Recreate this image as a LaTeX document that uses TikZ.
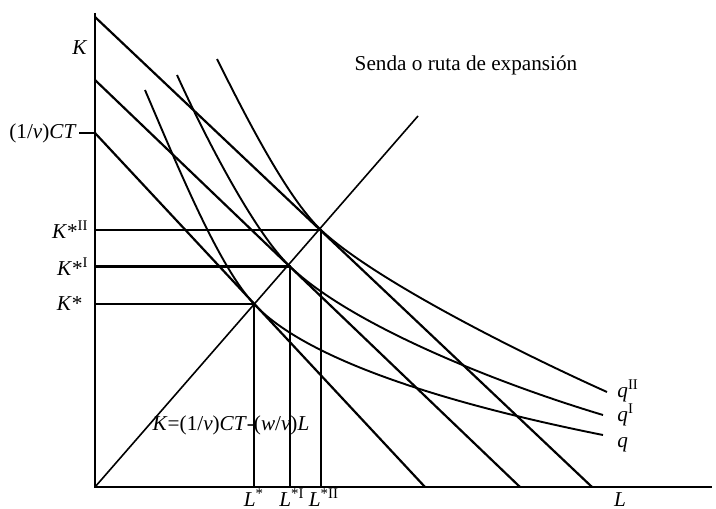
\documentclass[tikz,border=0pt]{standalone}
\usepackage{fontspec}
\setmainfont{Liberation Serif}
\usetikzlibrary{positioning}

\begin{document}
\begin{tikzpicture}[x=0.5pt,y=-0.5pt,every node/.style={font=\fontsize{10.6}{12}\selectfont,inner sep=1pt},
  axis/.style={line width=.6pt},
  budget/.style={line width=1.1pt},
  isoq/.style={line width=.95pt},
  guide/.style={line width=1.05pt}]
\useasboundingbox (0,0) rectangle (716,508);
\coordinate (O) at (95,487);
\coordinate (ytop) at (95,13);
\coordinate (xend) at (712,487);
\coordinate (b0s) at (95,133);\coordinate (b0e) at (425,487);
\coordinate (b1s) at (95,80);\coordinate (b1e) at (520,487);
\coordinate (b2s) at (95,17);\coordinate (b2e) at (592,487);
\coordinate (E0) at (254,304);
\coordinate (E1) at (290,266.5);
\coordinate (E2) at (321,230);
\coordinate (h0) at (95,304);\coordinate (f0) at (254,487);
\coordinate (h1) at (95,266.5);\coordinate (f1) at (290,487);
\coordinate (h2) at (95,230);\coordinate (f2) at (321,487);
\coordinate (pend) at (418,116);
\draw[axis] (ytop)--(O)--(xend);
\draw[budget] (b0s)--(b0e);
\draw[budget] (b1s)--(b1e);
\draw[budget] (b2s)--(b2e);
\draw[line width=.8pt] (O)--(pend);
\draw[guide] (h0)--(E0)--(f0);
\draw[guide] (h1)--(E1)--(f1);
\draw[guide] (h2)--(E2)--(f2);
\draw[isoq] (145,90) .. controls (180,172) and (219,266.5) .. (E0)
  .. controls (314,368) and (483,411) .. (603,435);
\draw[isoq] (177,75) .. controls (207,141) and (255,233) .. (E1)
  .. controls (350,324) and (493,382) .. (603,415);
\draw[isoq] (217,59) .. controls (242,109) and (286,197) .. (E2)
  .. controls (371,277) and (507,347) .. (607,392);
\node (lK) at (80,48) {\textit{K}};
\node[anchor=east] (lCT) at (79,133) {(1/\textit{v})\textit{CT}};
\draw[axis] (lCT.east)--(b0s);
\node[anchor=east] (lKc) at (91,230) {\textit{K}*\textsuperscript{II}};
\node[anchor=east] (lKb) at (91,266.5) {\textit{K}*\textsuperscript{I}};
\node[anchor=east] (lKa) at (85,304) {\textit{K}*};
\node[anchor=base] (lLa) at (254,506) {\textit{L}\textsuperscript{*}};
\node[anchor=base] (lLb) at (292,506) {\textit{L}\textsuperscript{*I}};
\node[anchor=base] (lLc) at (324,506) {\textit{L}\textsuperscript{*II}};
\node[anchor=base] (lL) at (620,506) {\textit{L}};
\node[anchor=base west] (lqc) at (615,397) {\textit{q}\textsuperscript{II}};
\node[anchor=base west] (lqb) at (615,421) {\textit{q}\textsuperscript{I}};
\node[anchor=base west] (lqa) at (615,447) {\textit{q}};
\node (lsenda) at (466,65) {Senda o ruta de expansión};
\node (leq) at (231,425) {\textit{K}=(1/\textit{v})\textit{CT}-(\textit{w}/\textit{v})\textit{L}};
\end{tikzpicture}
\end{document}
